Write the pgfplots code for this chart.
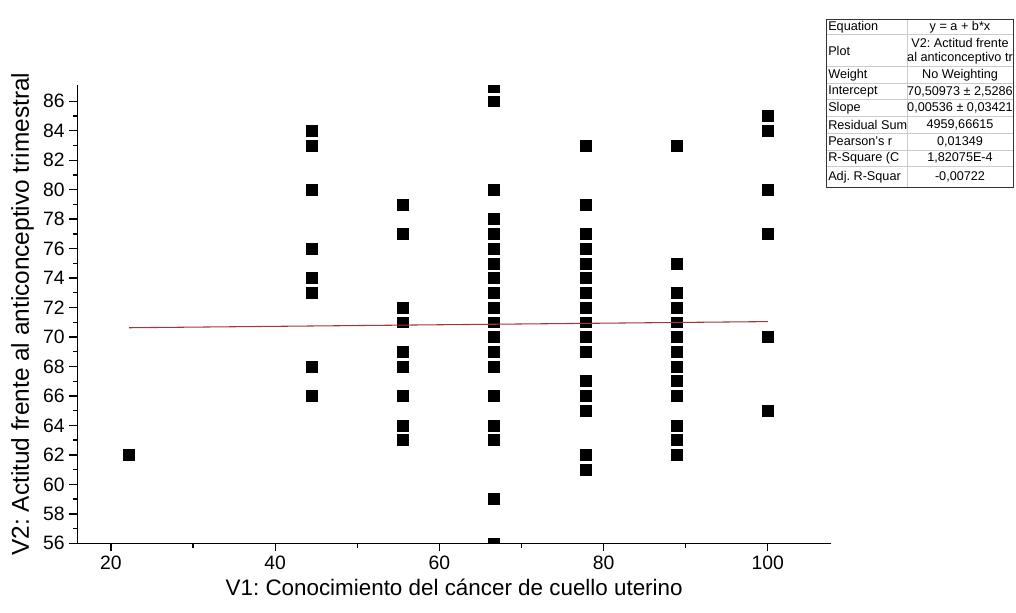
\documentclass[border=0pt]{standalone}
\usepackage{pgfplots}
\pgfplotsset{compat=1.18}
\usepackage{fontspec}
\setmainfont{Liberation Sans}
\definecolor{fitred}{RGB}{165,55,55}
\begin{document}
\frenchspacing
\begin{tikzpicture}
\begin{scope}[x=0.75pt,y=-0.75pt]
\path[use as bounding box] (0,0) rectangle (1016,613);
\end{scope}
\begin{axis}[
 at={(57.975pt,-407.475pt)}, anchor=south west,
 scale only axis, width=565.3pt, height=343.7pt,
 xmin=15.9, xmax=107.7, ymin=56, ymax=87.1,
 axis x line*=bottom, axis y line*=left,
 axis line style={line width=1.1pt, -},
 xtick={20,40,...,100}, ytick={56,58,...,86},
 minor x tick num=1, minor y tick num=1,
 tick align=outside,
 major tick length=6pt, minor tick length=3.5pt,
 tick style={line width=1pt, black},
 ticklabel style={font=\fontsize{14.5pt}{16pt}\selectfont},
 /pgf/number format/assume math mode=true,
 xlabel style={font=\fontsize{16.8pt}{19pt}\selectfont},
 ylabel style={font=\fontsize{18.3pt}{20pt}\selectfont},
 xlabel={V1: Conocimiento del cáncer de cuello uterino},
 ylabel={V2: Actitud frente al anticonceptivo trimestral},
 clip=true, clip marker paths=true,
]
\addplot[only marks, mark=square*, mark size=4.1pt, black] coordinates {
(22.22,62)
(44.44,84) (44.44,83) (44.44,80) (44.44,76) (44.44,74) (44.44,73) (44.44,68) (44.44,66)
(55.56,79) (55.56,77) (55.56,72) (55.56,71) (55.56,69) (55.56,68) (55.56,66) (55.56,64) (55.56,63)
(66.67,87) (66.67,86) (66.67,80) (66.67,78) (66.67,77) (66.67,76) (66.67,75) (66.67,74) (66.67,73) (66.67,72) (66.67,71) (66.67,70) (66.67,69) (66.67,68) (66.67,66) (66.67,64) (66.67,63) (66.67,59) (66.67,56)
(77.78,83) (77.78,79) (77.78,77) (77.78,76) (77.78,75) (77.78,74) (77.78,73) (77.78,72) (77.78,71) (77.78,70) (77.78,69) (77.78,67) (77.78,66) (77.78,65) (77.78,62) (77.78,61)
(88.89,83) (88.89,75) (88.89,73) (88.89,72) (88.89,71) (88.89,70) (88.89,69) (88.89,68) (88.89,67) (88.89,66) (88.89,64) (88.89,63) (88.89,62)
(100,85) (100,84) (100,80) (100,77) (100,70) (100,65)
};
\addplot[fitred, line width=0.8pt] coordinates {(22.22,70.62883) (100,71.04573)};
\end{axis}
\begin{scope}[x=0.75pt,y=-0.75pt, font=\fontsize{9.5pt}{11pt}\selectfont]
\fill[white] (826,19.3) rectangle (1013,187.3);
\foreach \y in {34.3,66.7,83.3,99.5,116.7,133.3,150,166.7} \draw[gray!40, line width=0.5pt] (826,\y) -- (1013,\y);
\draw[gray!40, line width=0.5pt] (907,19.3) -- (907,187.3);
\draw[black!80, line width=0.7pt] (826,19.3) rectangle (1013,187.3);
\node[anchor=west, inner sep=0] at (828,26.8) {Equation};
\node[anchor=west, inner sep=0] at (828,50.5) {Plot};
\node[anchor=west, inner sep=0] at (828,75) {Weight};
\node[anchor=west, inner sep=0] at (828,91.4) {Intercept};
\node[anchor=west, inner sep=0] at (828,108.1) {Slope};
\node[anchor=west, inner sep=0] at (828,125) {Residual Sum};
\node[anchor=west, inner sep=0] at (828,141.65) {Pearson's r};
\node[anchor=west, inner sep=0] at (828,158.35) {R-Square (C};
\node[anchor=west, inner sep=0] at (828,177) {Adj. R-Squar};
\node[inner sep=0] at (960,26.8) {y = a + b*x};
\node[inner sep=0] at (960,43) {V2: Actitud frente};
\node[inner sep=0] at (960,58) {al anticonceptivo tr};
\node[inner sep=0] at (960,75) {No Weighting};
\node[inner sep=0] at (960,91.4) {70,50973 ± 2,5286};
\node[inner sep=0] at (960,108.1) {0,00536 ± 0,03421};
\node[inner sep=0] at (960,125) {4959,66615};
\node[inner sep=0] at (960,141.65) {0,01349};
\node[inner sep=0] at (960,158.35) {1,82075E-4};
\node[inner sep=0] at (960,177) {-0,00722};
\end{scope}
\end{tikzpicture}
\end{document}
